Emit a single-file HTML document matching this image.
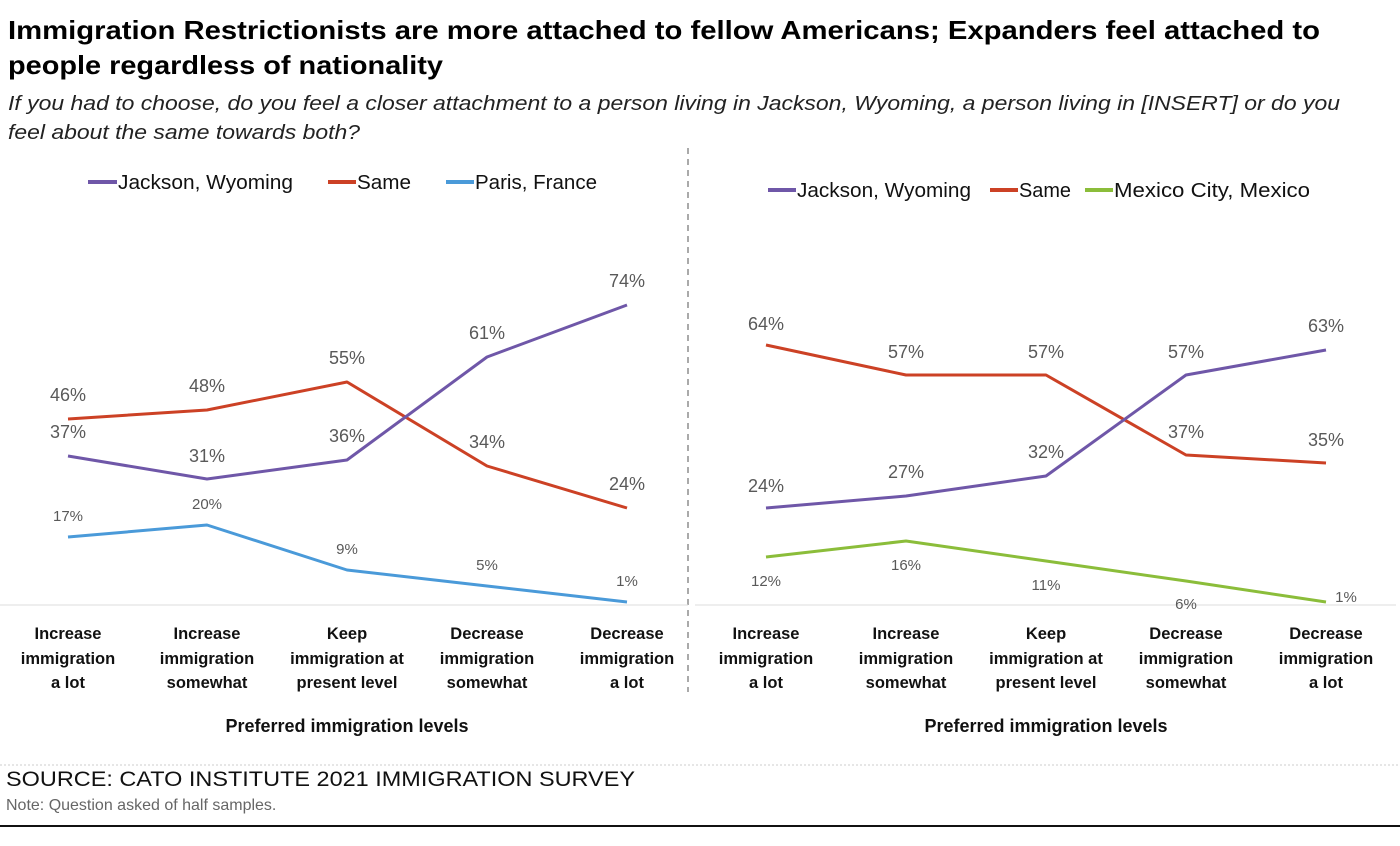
<!DOCTYPE html>
<html><head><meta charset="utf-8"><style>
body{margin:0;background:#fff;width:1400px;height:841px;overflow:hidden;font-family:"Liberation Sans",sans-serif}
</style></head><body>
<svg width="1400" height="841" xmlns="http://www.w3.org/2000/svg" font-family="Liberation Sans, sans-serif">
<text x="8" y="39" font-size="26" font-weight="bold" fill="#000" textLength="1312" lengthAdjust="spacingAndGlyphs">Immigration Restrictionists are more attached to fellow Americans; Expanders feel attached to</text>
<text x="8" y="74" font-size="26" font-weight="bold" fill="#000" textLength="435" lengthAdjust="spacingAndGlyphs">people regardless of nationality</text>
<text x="8" y="110" font-size="20" font-style="italic" fill="#222" textLength="1332" lengthAdjust="spacingAndGlyphs">If you had to choose, do you feel a closer attachment to a person living in Jackson, Wyoming, a person living in [INSERT] or do you</text>
<text x="8" y="139" font-size="20" font-style="italic" fill="#222" textLength="352" lengthAdjust="spacingAndGlyphs">feel about the same towards both?</text>
<line x1="688" y1="148" x2="688" y2="692" stroke="#555" stroke-dasharray="6,5" stroke-width="1"/>
<line x1="0" y1="605" x2="688" y2="605" stroke="#ddd"/>
<line x1="695" y1="605" x2="1396" y2="605" stroke="#ddd"/>
<g font-size="20" fill="#111">
<line x1="88" y1="182" x2="117" y2="182" stroke="#6f57a8" stroke-width="4"/><text x="118" y="189" textLength="175" lengthAdjust="spacingAndGlyphs">Jackson, Wyoming</text>
<line x1="328" y1="182" x2="356" y2="182" stroke="#cc4125" stroke-width="4"/><text x="357" y="189" textLength="54" lengthAdjust="spacingAndGlyphs">Same</text>
<line x1="446" y1="182" x2="474" y2="182" stroke="#4a9ad9" stroke-width="4"/><text x="475" y="189" textLength="122" lengthAdjust="spacingAndGlyphs">Paris, France</text>
<line x1="768" y1="190" x2="796" y2="190" stroke="#6f57a8" stroke-width="4"/><text x="797" y="197" textLength="174" lengthAdjust="spacingAndGlyphs">Jackson, Wyoming</text>
<line x1="990" y1="190" x2="1018" y2="190" stroke="#cc4125" stroke-width="4"/><text x="1019" y="197" textLength="52" lengthAdjust="spacingAndGlyphs">Same</text>
<line x1="1085" y1="190" x2="1113" y2="190" stroke="#8bbd3a" stroke-width="4"/><text x="1114" y="197" textLength="196" lengthAdjust="spacingAndGlyphs">Mexico City, Mexico</text>
</g>
<g fill="none" stroke-width="3" stroke-linejoin="round">
<polyline stroke="#cc4125" points="68,419 207,410 347,382 487,466 627,508"/>
<polyline stroke="#6f57a8" points="68,456 207,479 347,460 487,357 627,305"/>
<polyline stroke="#4a9ad9" points="68,537 207,525 347,570 487,586 627,602"/>
<polyline stroke="#cc4125" points="766,345 906,375 1046,375 1186,455 1326,463"/>
<polyline stroke="#6f57a8" points="766,508 906,496 1046,476 1186,375 1326,350"/>
<polyline stroke="#8bbd3a" points="766,557 906,541 1046,561 1186,581 1326,602"/>
</g>
<g font-size="18" fill="#595959" text-anchor="middle">
<text x="68" y="401">46%</text><text x="207" y="392">48%</text><text x="347" y="364">55%</text><text x="487" y="448">34%</text><text x="627" y="490">24%</text>
<text x="68" y="438">37%</text><text x="207" y="462">31%</text><text x="347" y="442">36%</text><text x="487" y="339">61%</text><text x="627" y="287">74%</text>
<text x="766" y="330">64%</text><text x="906" y="358">57%</text><text x="1046" y="358">57%</text><text x="1186" y="438">37%</text><text x="1326" y="446">35%</text>
<text x="766" y="492">24%</text><text x="906" y="478">27%</text><text x="1046" y="458">32%</text><text x="1186" y="358">57%</text><text x="1326" y="332">63%</text>
</g>
<g font-size="15" fill="#595959" text-anchor="middle">
<text x="68" y="521">17%</text><text x="207" y="509">20%</text><text x="347" y="554">9%</text><text x="487" y="570">5%</text><text x="627" y="586">1%</text>
<text x="766" y="586">12%</text><text x="906" y="570">16%</text><text x="1046" y="590">11%</text><text x="1186" y="609">6%</text><text x="1346" y="602">1%</text>
</g>
<g font-size="16.5" font-weight="bold" fill="#111" text-anchor="middle">
<text x="68" y="639">Increase</text><text x="68" y="664">immigration</text><text x="68" y="688">a lot</text>
<text x="207" y="639">Increase</text><text x="207" y="664">immigration</text><text x="207" y="688">somewhat</text>
<text x="347" y="639">Keep</text><text x="347" y="664">immigration at</text><text x="347" y="688">present level</text>
<text x="487" y="639">Decrease</text><text x="487" y="664">immigration</text><text x="487" y="688">somewhat</text>
<text x="627" y="639">Decrease</text><text x="627" y="664">immigration</text><text x="627" y="688">a lot</text>
<text x="766" y="639">Increase</text><text x="766" y="664">immigration</text><text x="766" y="688">a lot</text>
<text x="906" y="639">Increase</text><text x="906" y="664">immigration</text><text x="906" y="688">somewhat</text>
<text x="1046" y="639">Keep</text><text x="1046" y="664">immigration at</text><text x="1046" y="688">present level</text>
<text x="1186" y="639">Decrease</text><text x="1186" y="664">immigration</text><text x="1186" y="688">somewhat</text>
<text x="1326" y="639">Decrease</text><text x="1326" y="664">immigration</text><text x="1326" y="688">a lot</text>
<text x="347" y="732" font-size="18">Preferred immigration levels</text>
<text x="1046" y="732" font-size="18">Preferred immigration levels</text>
</g>
<line x1="0" y1="765" x2="1400" y2="765" stroke="#ccc" stroke-dasharray="2,2"/>
<text x="6" y="786" font-size="21" fill="#111" textLength="629" lengthAdjust="spacingAndGlyphs">SOURCE: CATO INSTITUTE 2021 IMMIGRATION SURVEY</text>
<text x="6" y="810" font-size="16" fill="#666">Note: Question asked of half samples.</text>
<line x1="0" y1="826" x2="1400" y2="826" stroke="#111" stroke-width="2"/>
</svg>
</body></html>
